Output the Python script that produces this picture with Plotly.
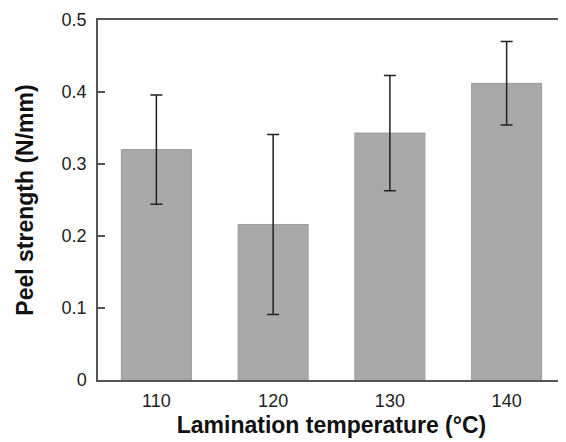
import plotly.graph_objects as go

categories = ["110", "120", "130", "140"]
peel_strength = [0.320, 0.216, 0.343, 0.412]
error_values = [0.076, 0.125, 0.080, 0.058]
y_tick_values = [0, 0.1, 0.2, 0.3, 0.4, 0.5]
y_tick_labels = ["0", "0.1", "0.2", "0.3", "0.4", "0.5"]

FONT = "Liberation Sans, Arial, Helvetica, sans-serif"

fig = go.Figure(
    go.Bar(
        x=categories,
        y=peel_strength,
        marker=dict(color="#a9a9a9", line=dict(color="#9c9c9c", width=1)),
        error_y=dict(type="data", array=error_values, visible=True,
                     color="#222222", thickness=1.5, width=6),
        width=0.6,
    )
)

fig.update_layout(
    width=558,
    height=434,
    margin=dict(l=90, r=1, t=12, b=62),
    paper_bgcolor="white",
    plot_bgcolor="white",
    showlegend=False,
    font=dict(family=FONT, color="#111111"),
    xaxis=dict(
        type="category",
        range=[-0.5, 3.5],
        showline=True, mirror=True, linecolor="#555555", linewidth=1.5,
        ticks="", showgrid=False, zeroline=False,
        tickfont=dict(size=18, color="#222222"),
        ticklabelstandoff=4,
        title=dict(text="<b>Lamination temperature (°C)</b>",
                   font=dict(size=23, color="#111111"), standoff=7),
        automargin=False,
    ),
    yaxis=dict(
        range=[0, 0.5],
        tickvals=y_tick_values, ticktext=y_tick_labels,
        showline=True, mirror=True, linecolor="#555555", linewidth=1.5,
        ticks="inside", ticklen=7, tickcolor="#555555", tickwidth=1.5,
        showgrid=False, zeroline=False,
        tickfont=dict(size=18, color="#222222"),
        ticklabelstandoff=6,
        title=dict(text="<b>Peel strength (N/mm)</b>",
                   font=dict(size=23, color="#111111"), standoff=22),
        automargin=False,
    ),
)

fig.write_html("out.html")
